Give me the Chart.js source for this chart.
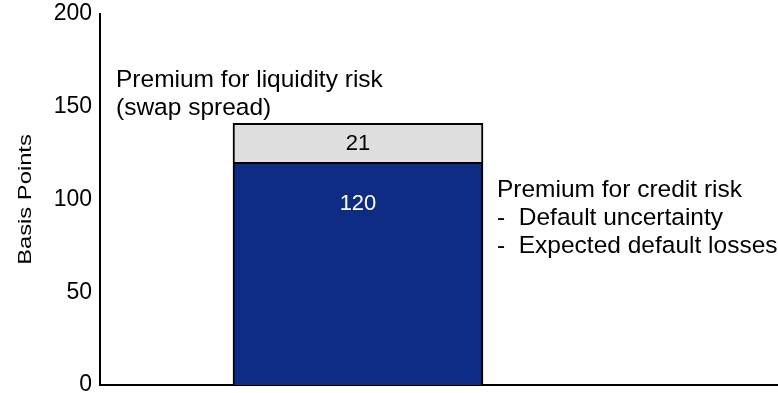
<!DOCTYPE html>
<html>
<head>
<meta charset="utf-8">
<script src="https://cdn.jsdelivr.net/npm/chart.js@4/dist/chart.umd.min.js"></script>
<style>
  html, body { margin: 0; padding: 0; background: #ffffff; }
  #wrap { width: 778px; height: 393px; }
</style>
</head>
<body>
<div id="wrap"><canvas id="chart" width="778" height="393"></canvas></div>
<script>
// Spread decomposition, in basis points
const categories = ['Spread'];
const creditPremium = [120];
const liquidityPremium = [21];
const yTicks = [0, 50, 100, 150, 200];

const FONT = '"Liberation Sans", Arial, Helvetica, sans-serif';
const BLUE = '#0f2c85';
const GREY = '#dedede';

function toPoints(values) {
  return categories.map((c, i) => ({ x: i, y: values[i] }));
}

// Stretched vertical axis title
const axisTitle = {
  id: 'axisTitle',
  afterDraw(chart) {
    const { ctx, chartArea } = chart;
    ctx.save();
    ctx.translate(31, (chartArea.top + chartArea.bottom) / 2);
    ctx.rotate(-Math.PI / 2);
    ctx.scale(1.25, 1);
    ctx.font = '19px ' + FONT;
    ctx.fillStyle = '#000';
    ctx.textAlign = 'center';
    ctx.textBaseline = 'alphabetic';
    ctx.fillText('Basis Points', 0, 0);
    ctx.restore();
  }
};

// Segment values and the two explanatory notes
const barNotes = {
  id: 'barNotes',
  afterDatasetsDraw(chart) {
    const { ctx, chartArea } = chart;
    const creditBar = chart.getDatasetMeta(0).data[0];
    const liqBar = chart.getDatasetMeta(1).data[0];
    ctx.save();
    ctx.textAlign = 'center';
    ctx.textBaseline = 'middle';
    ctx.font = '22px ' + FONT;

    ctx.fillStyle = '#000';
    ctx.fillText(String(liquidityPremium[0]), liqBar.x, (liqBar.y + liqBar.base) / 2 + 1);

    ctx.fillStyle = '#fff';
    ctx.fillText(String(creditPremium[0]), creditBar.x, creditBar.y + 42);

    ctx.font = '24.5px ' + FONT;
    ctx.fillStyle = '#000';
    ctx.textAlign = 'left';
    ctx.textBaseline = 'alphabetic';

    const lx = chartArea.left + 16;
    ctx.fillText('Premium for liquidity risk', lx, liqBar.y - 36);
    ctx.fillText('(swap spread)', lx, liqBar.y - 8);

    const cx = creditBar.x + creditBar.width / 2 + 14;
    ctx.fillText('Premium for credit risk', cx, creditBar.y + 35);
    ctx.fillText('-  Default uncertainty', cx, creditBar.y + 63);
    ctx.fillText('-  Expected default losses', cx, creditBar.y + 91);
    ctx.restore();
  }
};

new Chart(document.getElementById('chart'), {
  type: 'bar',
  data: {
    datasets: [
      {
        label: 'Premium for credit risk',
        data: toPoints(creditPremium),
        backgroundColor: BLUE,
        borderColor: '#000',
        borderWidth: 2,
        barThickness: 250
      },
      {
        label: 'Premium for liquidity risk',
        data: toPoints(liquidityPremium),
        backgroundColor: GREY,
        borderColor: '#000',
        borderWidth: 2,
        barThickness: 250
      }
    ]
  },
  options: {
    responsive: false,
    animation: false,
    layout: { padding: { top: 14, bottom: 8, left: 0, right: 0 } },
    plugins: {
      legend: { display: false },
      tooltip: { enabled: false },
      title: { display: false }
    },
    scales: {
      x: {
        type: 'linear',
        stacked: true,
        offset: false,
        min: -0.5,
        max: 0.814,
        grid: { display: false, drawTicks: false, offset: false },
        border: { display: true, color: '#000', width: 2 },
        ticks: { display: false },
        afterFit(scale) { scale.height = 0; }
      },
      y: {
        stacked: true,
        min: 0,
        max: 200,
        afterBuildTicks(scale) { scale.ticks = yTicks.map(v => ({ value: v })); },
        grid: { display: false, drawTicks: false },
        border: { display: true, color: '#000', width: 2 },
        ticks: {
          color: '#000',
          padding: 8,
          font: { family: FONT, size: 23 }
        },
        afterFit(scale) {
          scale.width = 100;
          scale.paddingTop = 0;
          scale.paddingBottom = 0;
        }
      }
    }
  },
  plugins: [axisTitle, barNotes]
});
</script>
</body>
</html>
